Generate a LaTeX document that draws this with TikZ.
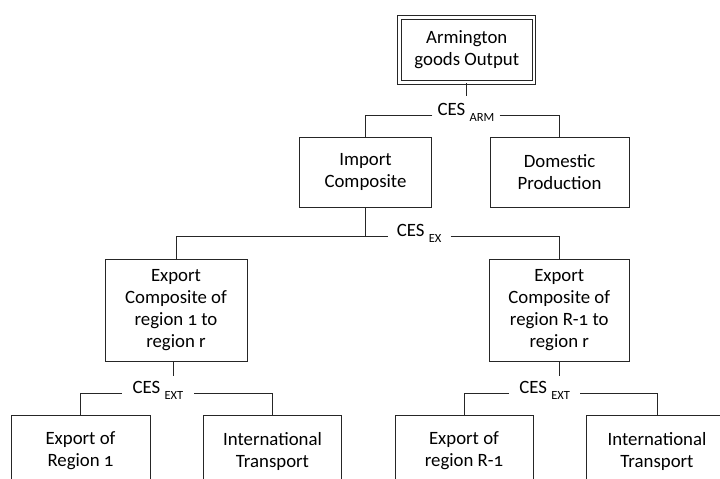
\documentclass[tikz,border=0pt]{standalone}
\usepackage{fontspec}
\setmainfont{Carlito}[Numbers=OldStyle]
\usetikzlibrary{calc}

\newcommand{\cesof}[1]{CES \raisebox{-6pt}{\fontsize{12.5}{13}\selectfont #1}}

\begin{document}
\begin{tikzpicture}[x=1pt,y=-1pt]
    \tikzstyle{good} = [draw=black!85, line width=1pt, align=center, inner sep=0pt, text=black, font=\fontsize{18.8}{22}\selectfont]
    \tikzstyle{elast} = [inner xsep=5pt, inner ysep=5pt, anchor=base, text=black, font=\fontsize{18.8}{22}\selectfont]
    \tikzstyle{branch} = [draw=black!85, line width=1pt]
    \useasboundingbox (0,0) rectangle (720,479);
    \clip (0,0) rectangle (720,479);
    % goods
    \node[good, double, double distance=2.6pt, line width=1.1pt, minimum width=134.5pt, minimum height=65pt] (arm) at (466.75,50) {Armington\\goods Output};
    \node[good, minimum width=132pt, minimum height=70pt] (imp) at (365.5,172) {Import\\Composite};
    \node[good, minimum width=139pt, minimum height=70pt] (dom) at (559.5,172) {Domestic\\Production};
    \node[good, minimum width=142pt, minimum height=102pt] (exa) at (176,310) {Export\\Composite of\\region 1 to\\region r};
    \node[good, minimum width=140.5pt, minimum height=102pt] (exb) at (559.25,310) {Export\\Composite of\\region R-1 to\\region r};
    \node[good, minimum width=139pt, minimum height=72pt] (exra) at (80.5,451) {Export of\\Region 1};
    \node[good, minimum width=138.5pt, minimum height=72pt] (trna) at (272.5,451) {International\\Transport};
    \node[good, minimum width=138pt, minimum height=72pt] (exrb) at (464,451) {Export of\\region R-1};
    \node[good, minimum width=142pt, minimum height=72pt] (trnb) at (657,451) {International\\Transport};
    % elasticities
    \node[elast, inner ysep=7pt] (cesarm) at (466,115) {\cesof{ARM}};
    \node[elast, inner xsep=9pt] (cesex) at (419.2,236.7) {\cesof{EX}};
    \node[elast, inner xsep=11pt] (cesexta) at (158,393.3) {\cesof{EXT}};
    \node[elast, inner xsep=10pt] (cesextb) at (544.7,393.3) {\cesof{EXT}};
    % nests
    \draw[branch] (arm.south) -- (arm.south |- cesarm.north);
    \draw[branch] (cesarm.base west) -| (imp.north);
    \draw[branch] (cesarm.base east) -| (dom.north);
    \draw[branch] (imp.south) -- (imp.south |- cesex.base);
    \draw[branch] (cesex.base west) -| (exa.north);
    \draw[branch] (cesex.base east) -| (exb.north);
    \draw[branch] ($(exa.south)+(-3,0)$) -- ($(exa.south |- cesexta.north)+(-3,0)$);
    \draw[branch] (cesexta.base west) -| (exra.north);
    \draw[branch] (cesexta.base east) -| (trna.north);
    \draw[branch] (exb.south) -- (exb.south |- cesextb.north);
    \draw[branch] (cesextb.base west) -| (exrb.north);
    \draw[branch] (cesextb.base east) -| (trnb.north);
\end{tikzpicture}
\end{document}
